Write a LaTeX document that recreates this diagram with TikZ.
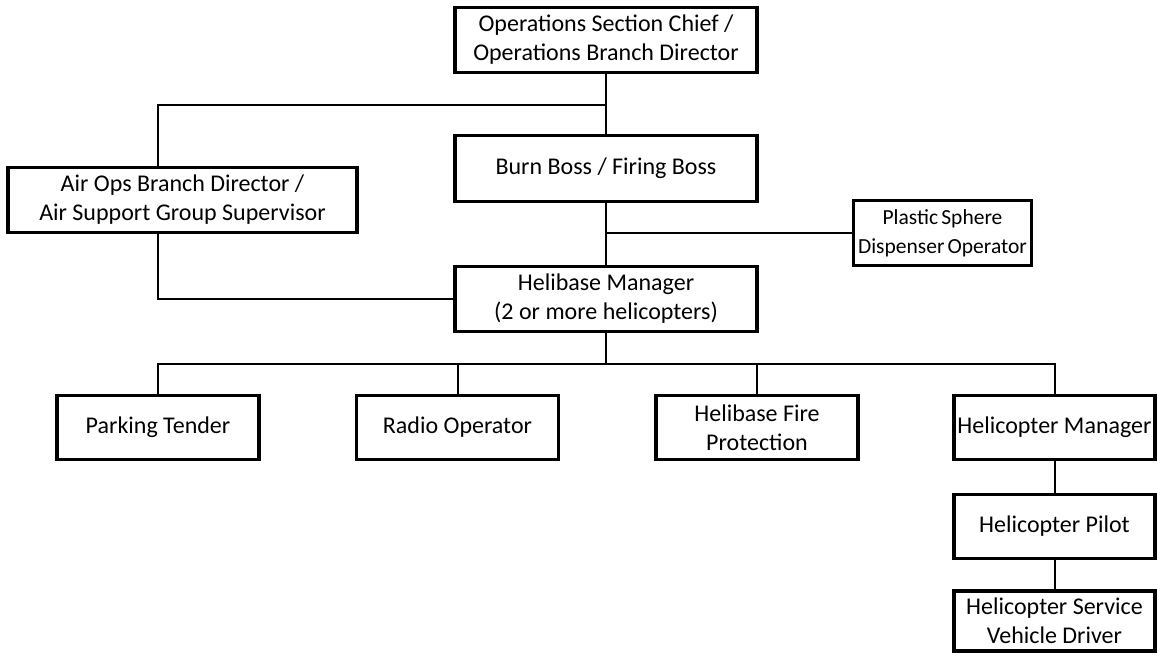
\documentclass[tikz,border=0pt]{standalone}
\usepackage{fontspec}
\setmainfont{Carlito}
\newcommand\tightsp{\spaceskip=0.15em\relax}
\tikzset{
  box/.style={draw=black, line width=3.4pt, fill=white, align=center, inner sep=0pt,
    font=\fontsize{24}{29}\selectfont},
  smallbox/.style={box, font=\fontsize{21.5}{29}\selectfont},
  link/.style={draw=black, line width=2pt}
}
\begin{document}
\begin{tikzpicture}[x=1pt,y=-1pt]
\useasboundingbox[fill=white] (0,0) rectangle (1157,654);
% nodes
\node[box, minimum width=302pt, minimum height=65pt] (ops) at (606,40) {Operations Section Chief /\\Operations Branch Director};
\node[box, minimum width=302pt, minimum height=66pt] (burn) at (606,168.5) {Burn Boss / Firing Boss};
\node[box, minimum width=349pt, minimum height=65pt] (airops) at (182.5,200) {Air Ops Branch Director /\\Air Support Group Supervisor};
\node[smallbox, minimum width=178pt, minimum height=65pt] (plastic) at (942.5,233) {\tightsp Plastic Sphere\\\tightsp Dispenser Operator};
\node[box, minimum width=302pt, minimum height=65pt] (heli) at (606,299) {Helibase Manager\\(2 or more helicopters)};
\node[box, minimum width=202pt, minimum height=64pt] (parking) at (158,427.5) {Parking Tender};
\node[box, minimum width=202pt, minimum height=64pt] (radio) at (457.5,427.5) {Radio Operator};
\node[box, minimum width=202pt, minimum height=64pt] (fire) at (757,427.5) {Helibase Fire\\Protection};
\node[box, minimum width=201pt, minimum height=64pt] (hmgr) at (1054.5,427.5) {Helicopter Manager};
\node[box, minimum width=201pt, minimum height=64pt] (pilot) at (1054.5,526.5) {Helicopter Pilot};
\node[box, minimum width=201pt, minimum height=60pt] (driver) at (1054.5,621) {Helicopter Service\\Vehicle Driver};
% junctions
\coordinate (j1) at (606,105);
\coordinate (j2) at (606,364);
% connectors
\draw[link] (ops.south) -- (burn.north);
\draw[link] (j1) -| (airops.north -| parking.north);
\draw[link] (airops.south -| parking.north) |- (heli.west);
\draw[link] (burn.south) -- (heli.north);
\draw[link] (burn.south |- plastic.west) -- (plastic.west);
\draw[link] (heli.south) -- (j2);
\draw[link] (parking.north) |- (hmgr.north |- j2) -- (hmgr.north);
\draw[link] (radio.north) -- (radio.north |- j2);
\draw[link] (fire.north) -- (fire.north |- j2);
\draw[link] (hmgr.south) -- (pilot.north);
\draw[link] (pilot.south) -- (driver.north);
\end{tikzpicture}
\end{document}
